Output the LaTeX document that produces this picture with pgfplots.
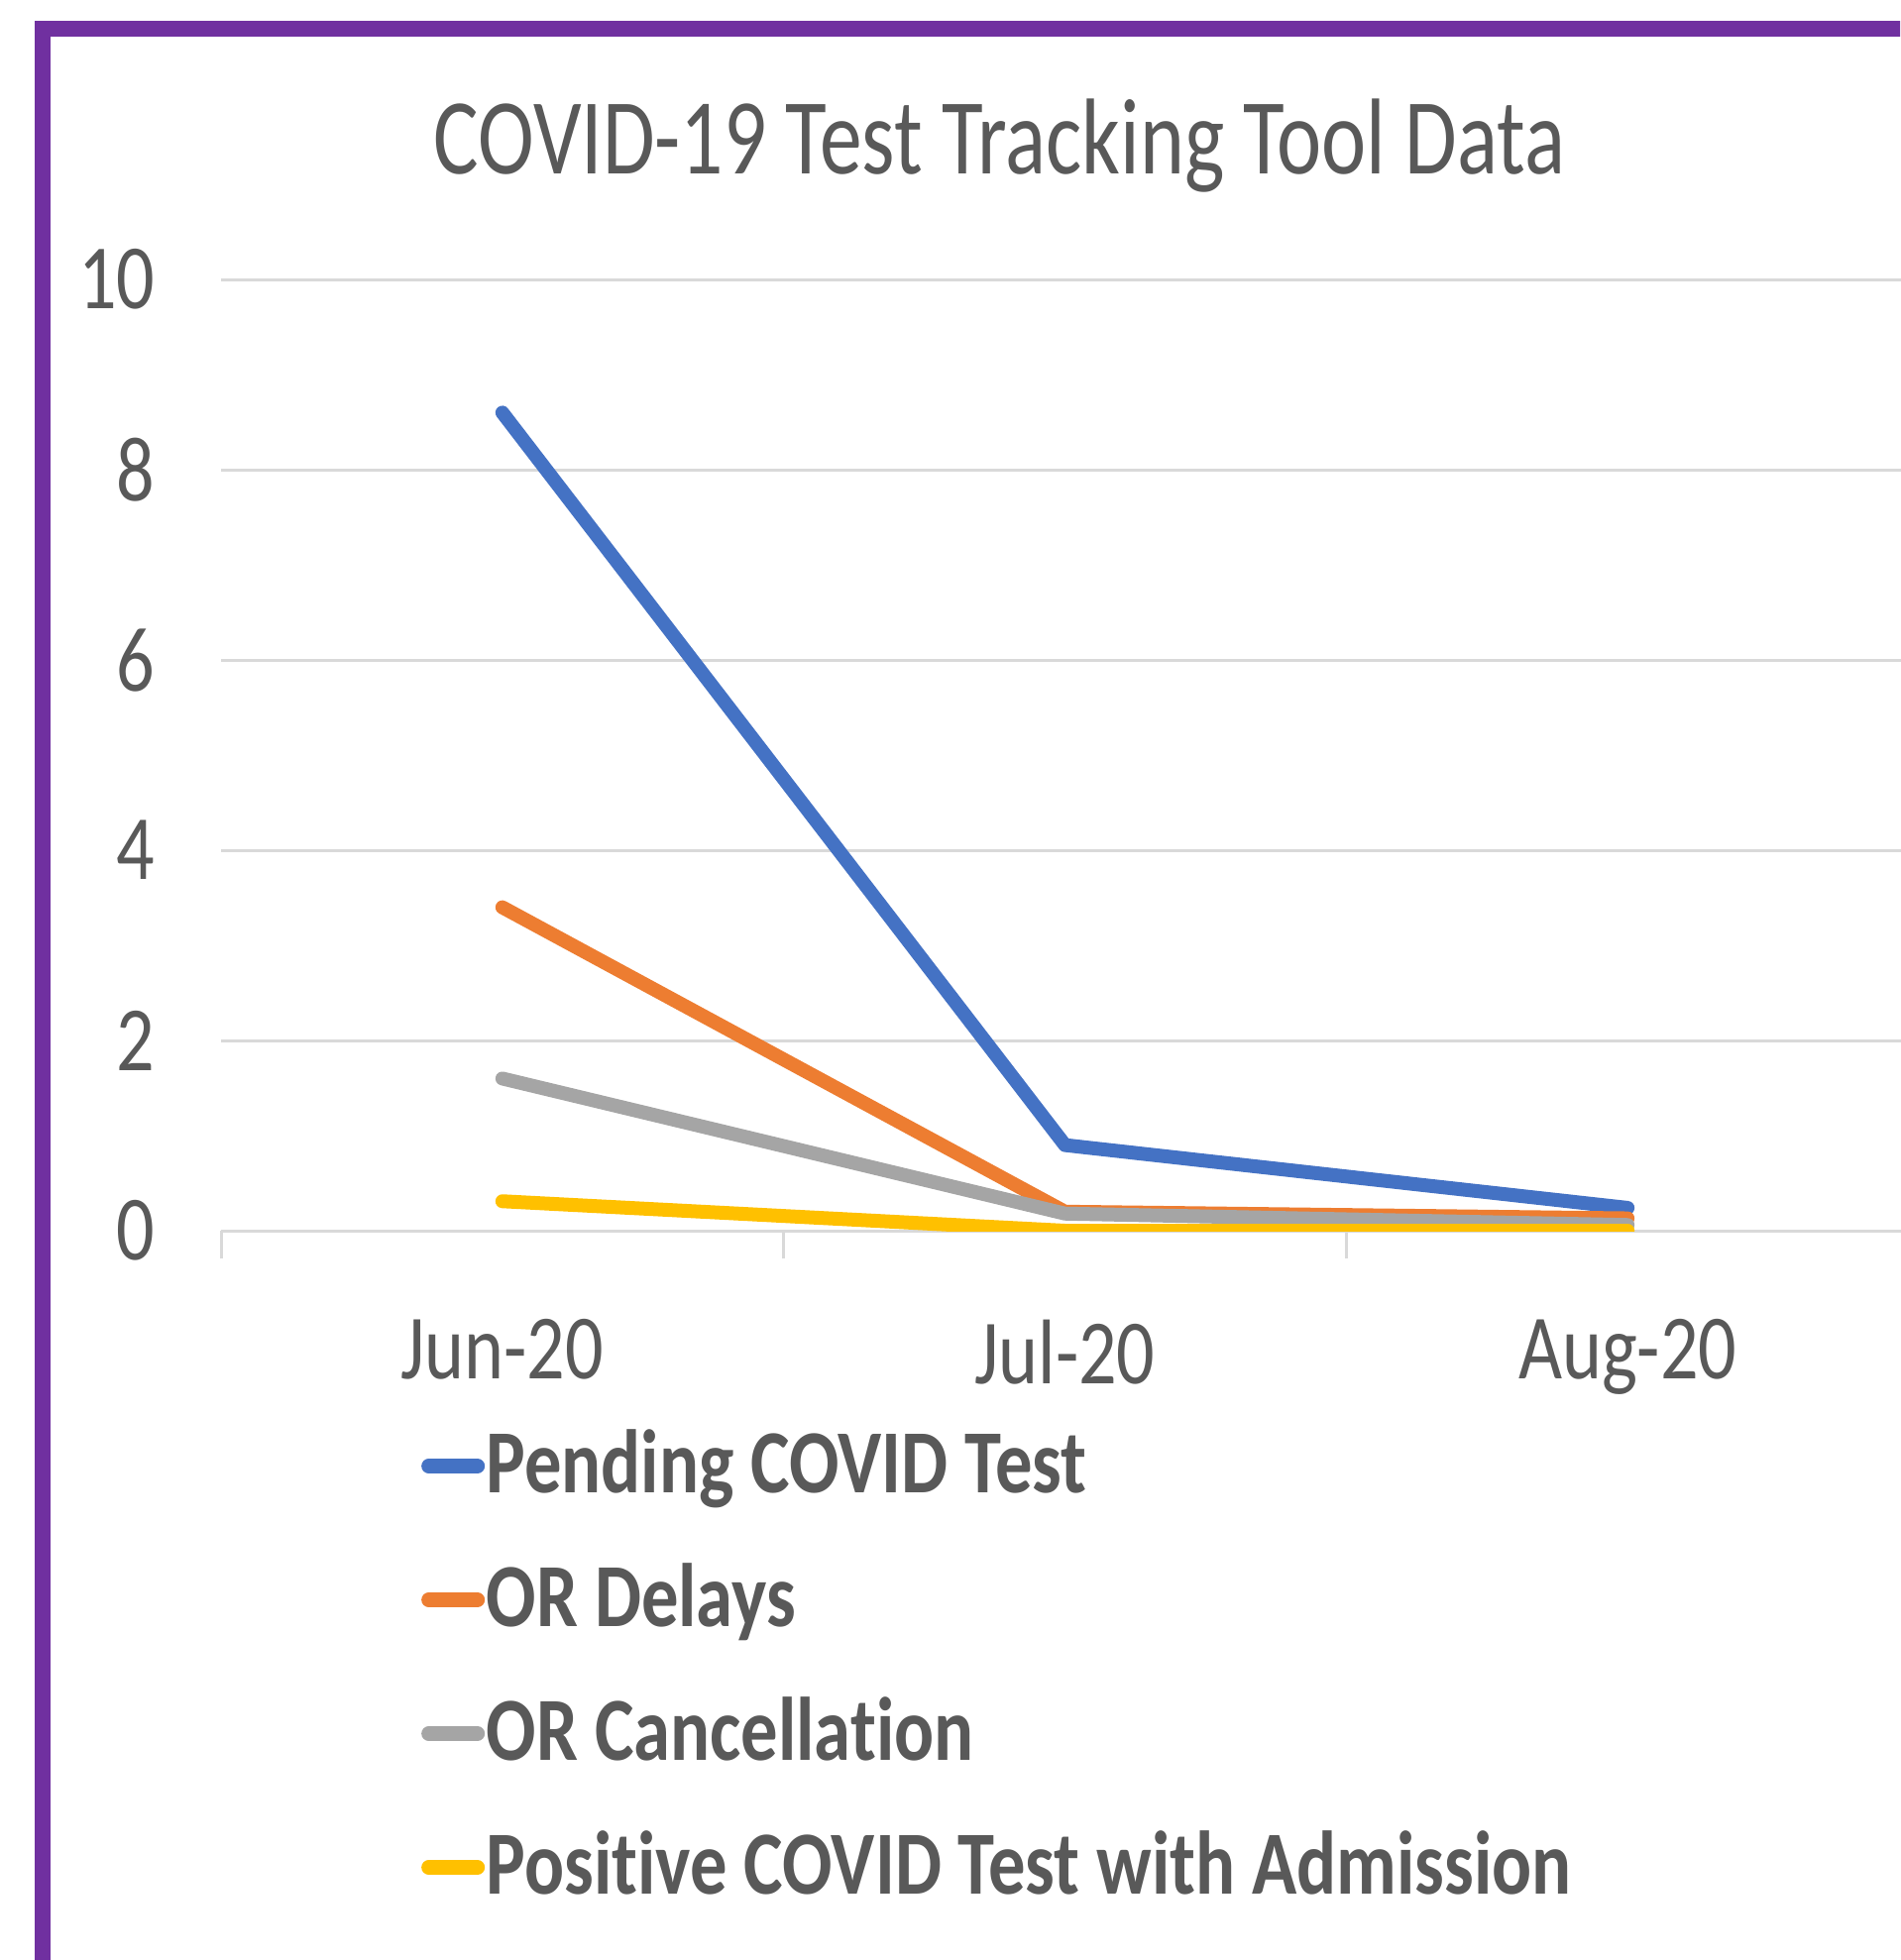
\documentclass[border=0pt]{standalone}
\usepackage{pgfplots}
\pgfplotsset{compat=1.18}
\usepackage{fontspec}
\setmainfont[FakeStretch=0.82, Ligatures=NoCommon]{Carlito}
\newfontfamily\titlefont[FakeStretch=0.785, Ligatures=NoCommon]{Carlito}
\definecolor{cblue}{HTML}{4472C4}
\definecolor{corange}{HTML}{ED7D31}
\definecolor{cgray}{HTML}{A5A5A5}
\definecolor{cyellow}{HTML}{FFC000}
\definecolor{cpurple}{HTML}{7030A0}
\definecolor{ctext}{HTML}{595959}
\definecolor{cgrid}{HTML}{D9D9D9}
\begin{document}
\begin{tikzpicture}
\path[use as bounding box] (0,0) rectangle (191.7mm,-197.8mm);
\begin{scope}
\clip (0,0) rectangle (191.7mm,-197.8mm);
\draw[line width=1.6mm, cpurple] (4.3mm,-205mm) -- (4.3mm,-2.9mm) -- (205mm,-2.9mm);
\end{scope}
\node[anchor=base, font=\titlefont\fontsize{31}{31}\selectfont, text=ctext, inner sep=0pt] at (100.85mm,-17.6mm) {COVID-19 Test Tracking Tool Data};
\begin{axis}[
  at={(22.3mm,-124.2mm)}, anchor=south west,
  scale only axis, width=170.3mm, height=96.0mm,
  xmin=-0.5, xmax=2.5, ymin=0, ymax=10,
  xtick={0,1,2}, xticklabels={Jun-20,Jul-20,Aug-20},
  minor xtick={-0.5,0.5,1.5,2.5},
  ytick={0,2,4,6,8,10},
  ymajorgrids, grid style={line width=0.3mm, cgrid},
  axis line style={draw=none},
  major tick length=0pt, minor tick length=2.8mm,
  tick align=outside, xtick pos=left, ytick pos=left,
  minor tick style={line width=0.3mm, cgrid},
  tick label style={font=\fontsize{26.4}{26.4}\selectfont, text=ctext},
  /pgf/number format/assume math mode=true,
  yticklabel style={anchor=east, inner sep=0pt, xshift=-6.6mm},
  xticklabel style={anchor=north, inner sep=0pt, yshift=-8.9mm},
  legend style={at={(0.1183,-0.2071)}, anchor=north west, draw=none, fill=none,
    inner sep=0pt, row sep=5.9mm,
    nodes={inner sep=0pt, text height=6.5mm, text depth=1.1mm,
      font=\bfseries\fontsize{25.9}{25.9}\selectfont, text=ctext}},
  legend cell align=left,
  legend image code/.code={\draw[#1, line width=1.5mm, line cap=round] (0mm,0mm) -- (4.9mm,0mm); \path (5.1mm,0mm);},
]
\addplot[cblue, line width=1.4mm, line cap=round, line join=round] coordinates {(0,8.6) (1,0.9) (2,0.24)};
\addlegendentry{Pending COVID Test}
\addplot[corange, line width=1.4mm, line cap=round, line join=round] coordinates {(0,3.4) (1,0.2) (2,0.13)};
\addlegendentry{OR Delays}
\addplot[cgray, line width=1.4mm, line cap=round, line join=round] coordinates {(0,1.6) (1,0.18) (2,0.06)};
\addlegendentry{OR Cancellation}
\addplot[cyellow, line width=1.4mm, line cap=round, line join=round] coordinates {(0,0.31) (1,0) (2,0)};
\addlegendentry{Positive COVID Test with Admission}
\end{axis}
\end{tikzpicture}
\end{document}
